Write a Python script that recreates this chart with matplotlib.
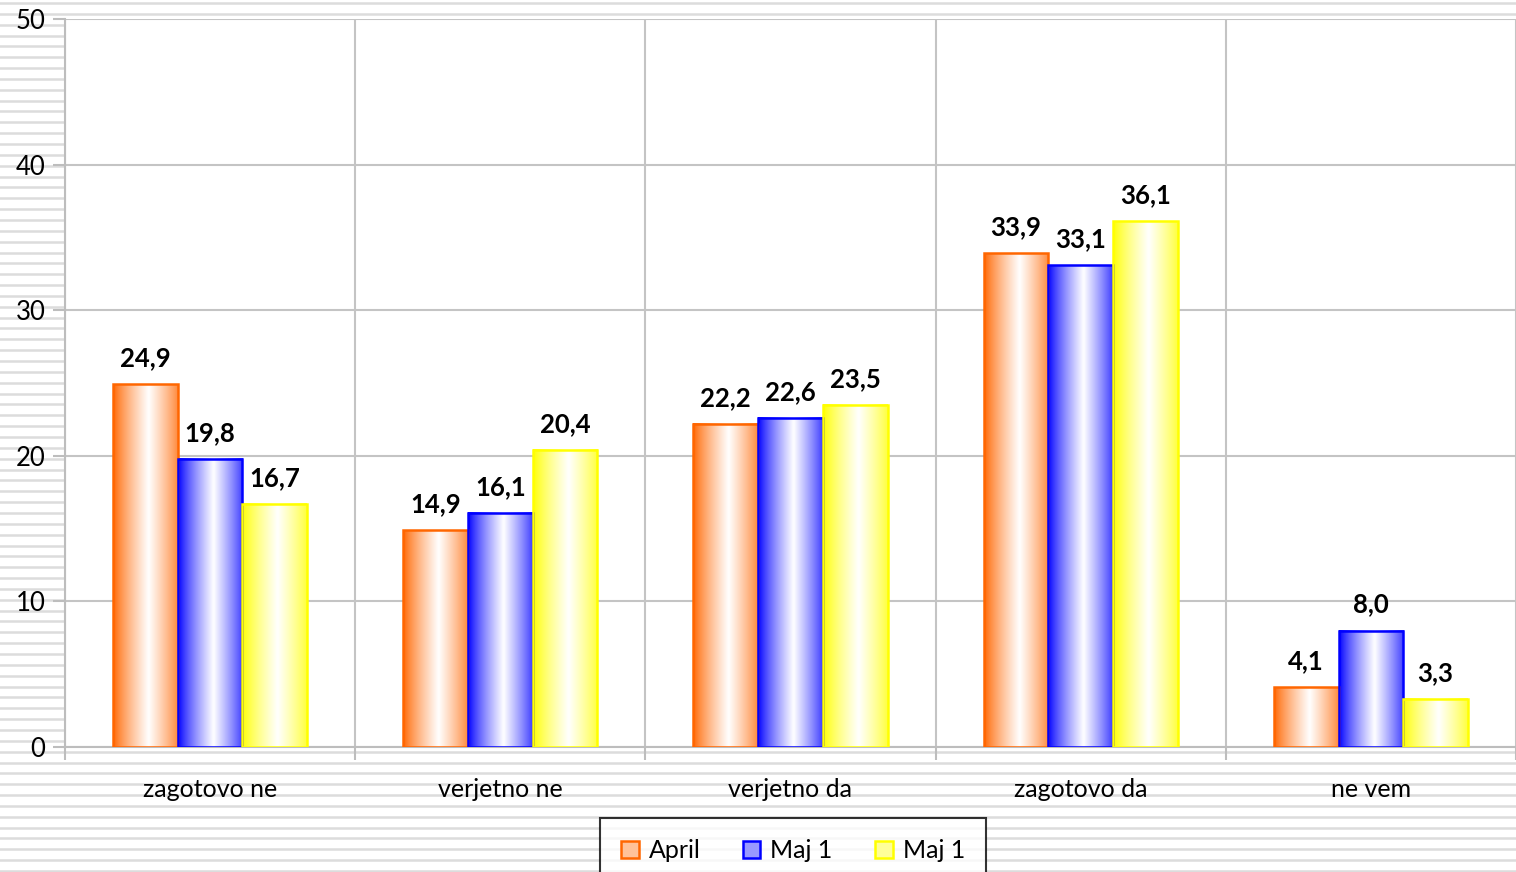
import numpy as np
import matplotlib
matplotlib.use("Agg")
import matplotlib.pyplot as plt
from matplotlib.patches import Rectangle, Patch
from matplotlib.colors import to_rgb

plt.rcParams['font.family'] = ['Lato', 'DejaVu Sans']

categories = ["zagotovo ne", "verjetno ne", "verjetno da", "zagotovo da", "ne vem"]
series_names = ["April", "Maj 1", "Maj 1"]
april = [24.9, 14.9, 22.2, 33.9, 4.1]
maj1 = [19.8, 16.1, 22.6, 33.1, 8.0]
maj1b = [16.7, 20.4, 23.5, 36.1, 3.3]
colors = ["#FF6600", "#0000FF", "#FFFF00"]

W, H = 1516, 872
fig = plt.figure(figsize=(W / 100, H / 100), dpi=100)

# striped background
bg = fig.add_axes([0, 0, 1, 1])
bg.set_xlim(0, W)
bg.set_ylim(H, 0)
bg.axis("off")
for y in np.arange(3, H, 10.85):
    bg.axhline(y, color="#dcdcdc", lw=1.8)

ax = fig.add_axes([65 / W, (H - 747) / H, (W - 65) / W, (747 - 19) / H])
ax.set_facecolor("white")

def gradient(c):
    r, g, b = to_rgb(c)
    t = np.linspace(0, 1, 64)
    w = np.clip(1 - np.abs(t - 0.55) / 0.55, 0, 1) ** 0.8
    img = np.zeros((1, 64, 3))
    img[0, :, 0] = r + (1 - r) * w
    img[0, :, 1] = g + (1 - g) * w
    img[0, :, 2] = b + (1 - b) * w
    return img

bw = 0.223
x = np.arange(len(categories))
for k, (vals, c) in enumerate(zip([april, maj1, maj1b], colors)):
    img = gradient(c)
    for i, v in enumerate(vals):
        x0 = x[i] + (k - 1) * bw - bw / 2
        ax.imshow(img, extent=[x0, x0 + bw, 0, v], aspect="auto", zorder=3,
                  interpolation="bilinear")
        ax.add_patch(Rectangle((x0, 0), bw, v, fill=False, edgecolor=c, lw=1.8, zorder=4))
        ax.annotate(f"{v:.1f}".replace(".", ","), (x0 + bw / 2, v), xytext=(0, 10),
                    textcoords="offset points", ha="center", va="bottom",
                    fontsize=18.5, fontweight="bold", zorder=5)

ax.set_xlim(-0.5, -0.5 + (W - 65) / 292)
ax.set_ylim(0, 50)
ax.set_yticks(range(0, 51, 10))
ax.set_xticks(np.arange(-0.5, 5, 1))
ax.set_xticklabels([])
ax.set_xticks(x, minor=True)
ax.set_xticklabels(categories, minor=True, fontsize=18)
ax.tick_params(axis="x", which="minor", length=0, pad=22)
ax.tick_params(axis="x", which="major", length=9, color="#bdbdbd", width=1.5)
ax.tick_params(axis="y", length=9, color="#bdbdbd", width=1.5, labelsize=18.5, pad=5)
ax.grid(True, which="major", color="#c4c4c4", lw=1.5, zorder=0)
ax.set_axisbelow(True)
for s in ["top", "right"]:
    ax.spines[s].set_visible(False)
for s in ["left", "bottom"]:
    ax.spines[s].set_color("#bdbdbd")
    ax.spines[s].set_linewidth(1.5)

handles = []
for c in colors:
    r, g, b = to_rgb(c)
    handles.append(Patch(facecolor=(r + (1 - r) * 0.6, g + (1 - g) * 0.6, b + (1 - b) * 0.6),
                         edgecolor=c, lw=1.8))
leg = fig.legend(handles, series_names, loc="upper center", ncol=3,
                 bbox_to_anchor=(793 / W, 1 - 818 / H), fontsize=18, frameon=True,
                 fancybox=False, edgecolor="black", handlelength=0.7, handleheight=0.7,
                 columnspacing=1.7, handletextpad=0.4, borderpad=0.85, borderaxespad=0)
leg.get_frame().set_linewidth(1.5)

fig.savefig("out.png", dpi=100)
